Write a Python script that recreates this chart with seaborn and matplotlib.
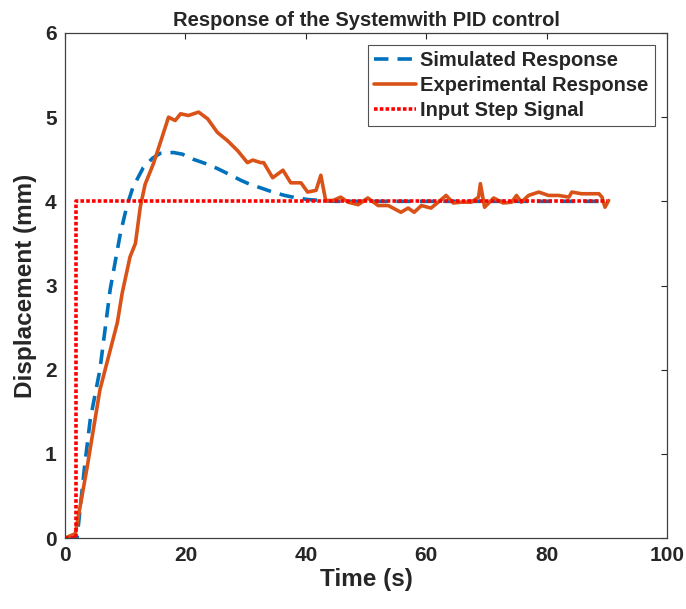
import numpy as np
import pandas as pd
import matplotlib
matplotlib.use("Agg")
import matplotlib.pyplot as plt
import seaborn as sns

sns.set_theme(style="white")
plt.rcParams['font.family'] = ['Liberation Sans', 'DejaVu Sans']
plt.rcParams['font.weight'] = 'bold'

# Simulated response
sim_t = [0, 2, 3.3, 4.2, 5.8, 7.5, 9.2, 10.3, 11.3, 13, 14.5, 15.8, 18, 19.5, 21.3, 23.3, 25.3, 27.3,
         29.2, 30.8, 32.5, 34.5, 36.5, 38.5, 40.5, 42.5, 45, 50, 60, 70, 80, 90]
sim_y = [0, 0, 0.88, 1.41, 2.0, 2.95, 3.62, 3.95, 4.17, 4.4, 4.51, 4.57, 4.58, 4.56, 4.5, 4.45, 4.39, 4.32,
         4.25, 4.2, 4.16, 4.11, 4.07, 4.04, 4.02, 4.01, 4.0, 4.0, 4.0, 4.0, 4.0, 4.0]

# Experimental response
exp_t = [0, 1.7, 3.7, 5.8, 8.7, 9.5, 10.8, 11.7, 12.5, 13.3, 14.7, 15.8, 17.2, 18.3, 19.2, 20.5, 22.2,
         23.7, 25.3, 27, 28.7, 30.3, 31.2, 32.5, 33, 34.5, 36.2, 37.5, 39.2, 40.3, 41.7, 42.5, 43.3,
         44.5, 45.8, 47, 48.7, 50.3, 52, 53.7, 55.8, 57, 58, 59.2, 60.8, 62, 63.3, 64.5, 65.8, 67.5,
         68.7, 69, 69.7, 71.2, 72.8, 74.2, 75, 75.8, 77, 78.7, 80.3, 82, 83.7, 84.2, 85.8, 87.5,
         88.7, 89.2, 89.7, 90.3]
exp_y = [0, 0.05, 0.85, 1.76, 2.56, 2.91, 3.34, 3.5, 3.93, 4.2, 4.45, 4.69, 5.0, 4.96, 5.04, 5.02, 5.06,
         4.98, 4.82, 4.72, 4.6, 4.46, 4.49, 4.46, 4.46, 4.28, 4.37, 4.22, 4.22, 4.11, 4.13, 4.31, 4.01,
         4.01, 4.05, 3.99, 3.96, 4.04, 3.95, 3.95, 3.87, 3.92, 3.87, 3.95, 3.92, 3.99, 4.07, 3.98, 3.99, 3.99,
         4.05, 4.21, 3.93, 4.04, 3.98, 3.99, 4.07, 3.99, 4.07, 4.11, 4.07, 4.07, 4.05, 4.11, 4.09, 4.09,
         4.09, 4.05, 3.93, 4.01]

# Input step
step_t = [0, 1.8, 1.8, 90]
step_y = [0, 0, 4, 4]

fig = plt.figure(figsize=(6.86, 6.09), dpi=100)
ax = fig.add_axes([65/686, (609-538)/609, (667-65)/686, (538-33)/609])

sim_df = pd.DataFrame({"t": sim_t, "y": sim_y})
exp_df = pd.DataFrame({"t": exp_t, "y": exp_y})
step_df = pd.DataFrame({"t": step_t, "y": step_y})

sns.lineplot(data=sim_df, x="t", y="y", ax=ax, color="#0072BD", lw=2.6, linestyle=(0, (4, 2.5)),
             label="Simulated Response", sort=False, estimator=None)
sns.lineplot(data=exp_df, x="t", y="y", ax=ax, color="#D95319", lw=2.6,
             label="Experimental Response", sort=False, estimator=None)
sns.lineplot(data=step_df, x="t", y="y", ax=ax, color="#FF0000", lw=2.6, linestyle=(0, (1, 0.6)),
             label="Input Step Signal", sort=False, estimator=None)

ax.set_xlim(0, 100)
ax.set_ylim(0, 6)
ax.set_xticks([0, 20, 40, 60, 80, 100])
ax.set_yticks([0, 1, 2, 3, 4, 5, 6])
ax.tick_params(direction='in', top=True, right=True, length=4, width=0.8, color="#262626",
               labelsize=15, pad=6, labelcolor="#262626")
for lab in ax.get_xticklabels() + ax.get_yticklabels():
    lab.set_fontweight('bold')
for s in ax.spines.values():
    s.set_color("#404040")
    s.set_linewidth(0.9)
ax.set_xlabel("Time (s)", fontsize=17.5, fontweight='bold', color="#262626", labelpad=2)
ax.set_ylabel("Displacement (mm)", fontsize=17.5, fontweight='bold', color="#262626", labelpad=6)
ax.set_title("Response of the Systemwith PID control", fontsize=14.5, fontweight='bold', pad=5)

leg = ax.legend(loc='upper right', prop={'weight': 'bold', 'size': 14.5},
                frameon=True, fancybox=False, handlelength=2.1, handletextpad=0.2,
                borderaxespad=0.6, labelspacing=0.3, borderpad=0.3)
leg.get_frame().set_edgecolor("#262626")
leg.get_frame().set_linewidth(0.8)

fig.savefig("out.png", dpi=100)
